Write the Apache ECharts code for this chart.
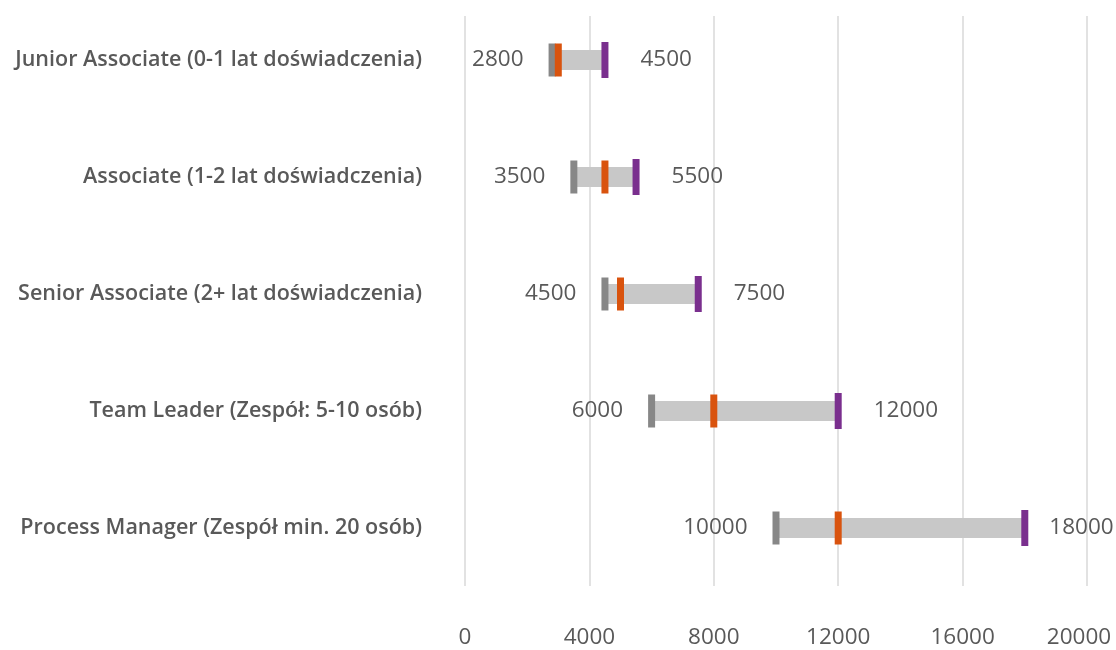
<!DOCTYPE html>
<html><head><meta charset="utf-8">
<script src="https://cdn.jsdelivr.net/npm/echarts@6/dist/echarts.min.js"></script>
<style>html,body{margin:0;padding:0;background:#fff}#c{width:1116px;height:650px}</style>
</head><body><div id="c"></div>
<script>
var categories = [
  'Junior Associate (0-1 lat doświadczenia)',
  'Associate (1-2 lat doświadczenia)',
  'Senior Associate (2+ lat doświadczenia)',
  'Team Leader (Zespół: 5-10 osób)',
  'Process Manager (Zespół min. 20 osób)'
];
var minValues = [2800, 3500, 4500, 6000, 10000];
var medianValues = [3000, 4500, 5000, 8000, 12000];
var maxValues = [4500, 5500, 7500, 12000, 18000];
var xTicks = [0, 4000, 8000, 12000, 16000, 20000];

var FONT = '"Open Sans", sans-serif';
var TXT = '#595959';
var AXMAX = xTicks[xTicks.length-1];
var chart = echarts.init(document.getElementById('c'));
function pts(arr){ return arr.map(function(v,i){ return [v, i]; }); }
// labels near the right edge are pulled in so they stay on the canvas
var maxData = maxValues.map(function(v,i){
  var item = { value: [v, i] };
  if (v > AXMAX * 0.85) item.label = { distance: 21 };
  return item;
});
chart.setOption({
  animation: false,
  textStyle: { fontFamily: FONT },
  grid: [
    { left: 465, right: 29, top: 1.5, height: 585, containLabel: false, outerBoundsMode: 'none' },
    { left: 465, right: 29, top: 16, bottom: 64, containLabel: false, outerBoundsMode: 'none' }
  ],
  xAxis: [
    { gridIndex: 0, type: 'value', min: xTicks[0], max: AXMAX, interval: 4000, show: false },
    { gridIndex: 1, type: 'value', min: xTicks[0], max: AXMAX, interval: 4000,
      axisLine: { show: false }, axisTick: { show: false },
      splitLine: { show: true, lineStyle: { color: '#d9d9d9', width: 1.5 } },
      axisLabel: { margin: 40, fontSize: 22.5, color: TXT, fontFamily: FONT,
        formatter: function(v){ return v === AXMAX ? '{r|' + v + '}' : String(v); },
        rich: { r: { fontSize: 22.5, color: TXT, fontFamily: FONT, padding: [0, 16, 0, 0] } } } }
  ],
  yAxis: [
    { gridIndex: 0, type: 'category', data: categories, inverse: true,
      axisLine: { show: false }, axisTick: { show: false }, splitLine: { show: false },
      axisLabel: { margin: 43, fontSize: 21.5, fontWeight: 600, color: TXT, fontFamily: FONT } },
    { gridIndex: 1, type: 'value', show: false }
  ],
  series: [
    { type: 'bar', stack: 'r', xAxisIndex: 0, yAxisIndex: 0, data: minValues,
      itemStyle: { color: 'transparent' }, barWidth: 20, silent: true },
    { type: 'bar', stack: 'r', xAxisIndex: 0, yAxisIndex: 0,
      data: maxValues.map(function(v,i){ return v - minValues[i]; }),
      itemStyle: { color: '#c8c8c8' }, barWidth: 20 },
    { type: 'scatter', xAxisIndex: 0, yAxisIndex: 0, data: pts(minValues),
      symbol: 'rect', symbolSize: [7, 33], itemStyle: { color: '#878787', opacity: 1 },
      label: { show: true, position: 'left', distance: 25, fontSize: 22.5, color: TXT, fontFamily: FONT,
        formatter: function(p){ return p.value[0]; } } },
    { type: 'scatter', xAxisIndex: 0, yAxisIndex: 0, data: pts(medianValues),
      symbol: 'rect', symbolSize: [7, 33], itemStyle: { color: '#d9530e', opacity: 1 } },
    { type: 'scatter', xAxisIndex: 0, yAxisIndex: 0, data: maxData,
      symbol: 'rect', symbolSize: [7, 36], itemStyle: { color: '#7a2f8e', opacity: 1 },
      label: { show: true, position: 'right', distance: 32, fontSize: 22.5, color: TXT, fontFamily: FONT,
        formatter: function(p){ return p.value[0]; } } }
  ]
});
</script></body></html>
